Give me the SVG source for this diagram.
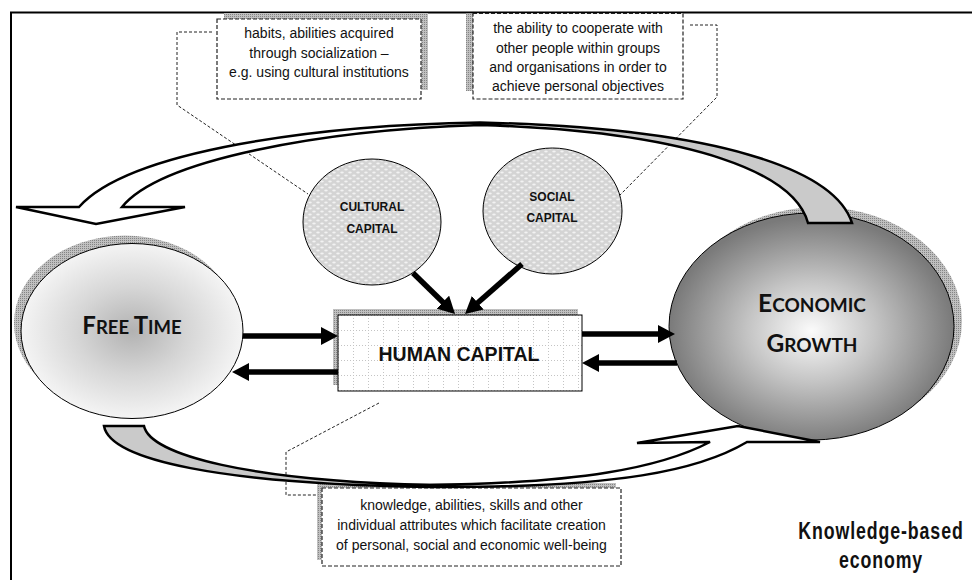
<svg xmlns="http://www.w3.org/2000/svg" width="972" height="580" viewBox="0 0 972 580">
<style>
.note{font-family:"Liberation Sans",Arial,sans-serif;font-size:14px;fill:#111;text-anchor:middle}
.cap{font-family:"Liberation Sans",Arial,sans-serif;font-size:12px;font-weight:bold;fill:#111;text-anchor:middle}
.sc{font-family:Lato,"Open Sans",sans-serif;font-weight:bold;fill:#111;text-anchor:middle}
.big{font-family:"Liberation Sans",Arial,sans-serif;font-weight:bold;fill:#111;text-anchor:middle}
.title{font-family:"Liberation Sans",Arial,sans-serif;font-weight:bold;font-size:24px;letter-spacing:1.2px;fill:#111;text-anchor:middle}
.dbox{fill:#fff;stroke:#222;stroke-width:1.2;stroke-dasharray:4 2}
.lead{fill:none;stroke:#222;stroke-width:1;stroke-dasharray:3 2}
.conn{fill:none;stroke:#000;stroke-width:5.5}
.band{stroke:#000;stroke-width:2.5;stroke-linejoin:miter}
</style>
<defs>
<pattern id="hatch" width="2" height="2" patternUnits="userSpaceOnUse"><rect width="2" height="2" fill="#c0c0c0"/><rect width="1" height="1" fill="#858585"/></pattern>
<pattern id="dots" width="8" height="6" patternUnits="userSpaceOnUse"><rect width="8" height="6" fill="#d4d4d4"/><ellipse cx="2" cy="1.5" rx="1.8" ry="0.9" fill="#f2f2f2"/><ellipse cx="6" cy="4.5" rx="1.8" ry="0.9" fill="#f2f2f2"/></pattern>
<pattern id="grid" x="338" y="315" width="15" height="15" patternUnits="userSpaceOnUse"><rect width="15" height="15" fill="#fff"/><path d="M0,0.5H15M0.5,0V15" stroke="#c4c4c4" stroke-width="1" stroke-dasharray="1 2"/></pattern>
<radialGradient id="ftGrad" cx="0.5" cy="0.5" r="0.5"><stop offset="0" stop-color="#b2b2b2"/><stop offset="0.5" stop-color="#d6d6d6"/><stop offset="1" stop-color="#f4f4f4"/></radialGradient>
<radialGradient id="egGrad" cx="0.5" cy="0.52" r="0.5"><stop offset="0" stop-color="#fbfbfb"/><stop offset="0.45" stop-color="#c4c4c4"/><stop offset="1" stop-color="#7a7a7a"/></radialGradient>
<linearGradient id="upFill" gradientUnits="userSpaceOnUse" x1="0" y1="0" x2="972" y2="0"><stop offset="0.576" stop-color="#fff"/><stop offset="0.576" stop-color="#cacaca"/></linearGradient>
<linearGradient id="lowFill" gradientUnits="userSpaceOnUse" x1="0" y1="0" x2="972" y2="0"><stop offset="0.442" stop-color="#cacaca"/><stop offset="0.442" stop-color="#fff"/></linearGradient>
<marker id="head" markerUnits="userSpaceOnUse" markerWidth="17" markerHeight="18" refX="3" refY="9" orient="auto"><path d="M0,0L17,9L0,18Z" fill="#000"/></marker>
</defs>
<rect width="972" height="580" fill="#fff"/>

<g id="frame"><path d="M11,580V12.5H972" fill="none" stroke="#000" stroke-width="2"/></g>

<g id="note-cultural">
<rect x="224" y="13" width="204" height="77" fill="url(#hatch)"/>
<rect class="dbox" x="217" y="19" width="204" height="80"/>
<text class="note" x="319" y="38" font-size="14.6">habits, abilities acquired</text>
<text class="note" x="319" y="57.5" font-size="14.6">through socialization –</text>
<text class="note" x="319" y="77" font-size="14.6">e.g. using cultural institutions</text>
</g>

<g id="note-social">
<rect x="466" y="13.5" width="210" height="77.5" fill="url(#hatch)"/>
<rect class="dbox" x="473" y="13.5" width="210" height="85.5"/>
<text class="note" x="578" y="33">the ability to cooperate with</text>
<text class="note" x="578" y="52.5">other people within groups</text>
<text class="note" x="578" y="72">and organisations in order to</text>
<text class="note" x="578" y="91">achieve personal objectives</text>
</g>

<g id="note-human">
<rect x="317" y="483" width="299" height="77" fill="url(#hatch)"/>
<rect class="dbox" x="322" y="488" width="299" height="78"/>
<text class="note" x="471.5" y="510" font-size="14.8">knowledge, abilities, skills and other</text>
<text class="note" x="471.5" y="530" font-size="14.8">individual attributes which facilitate creation</text>
<text class="note" x="471.5" y="550" font-size="14.8">of personal, social and economic well-being</text>
</g>

<g id="leaders">
<path class="lead" d="M212,32H177V105L308,194"/>
<path class="lead" d="M690,25H717V97L620,195"/>
<path class="lead" d="M379,403L286,452V495H318"/>
</g>

<g id="free-time">
<ellipse cx="125" cy="323" rx="111" ry="87.5" fill="url(#hatch)"/>
<ellipse cx="132" cy="331" rx="111" ry="87.5" fill="url(#ftGrad)" stroke="#000" stroke-width="1"/>
<text class="sc" x="132" y="334"><tspan font-size="24">F</tspan><tspan font-size="18.5">REE </tspan><tspan font-size="24">T</tspan><tspan font-size="18.5">IME</tspan></text>
</g>

<g id="economic-growth">
<ellipse cx="819.5" cy="320.5" rx="142.5" ry="113.5" fill="url(#hatch)"/>
<ellipse cx="811.5" cy="326.5" rx="142.5" ry="113.5" fill="url(#egGrad)" stroke="#000" stroke-width="1"/>
<text class="sc" x="812" y="312"><tspan font-size="24.5">E</tspan><tspan font-size="19">CONOMIC</tspan></text>
<text class="sc" x="812" y="352"><tspan font-size="24.5">G</tspan><tspan font-size="19">ROWTH</tspan></text>
</g>

<g id="cultural-capital">
<ellipse cx="372" cy="222" rx="69" ry="63" fill="url(#dots)" stroke="#000" stroke-width="1"/>
<text class="cap" x="372" y="211">CULTURAL</text>
<text class="cap" x="372" y="232.5">CAPITAL</text>
</g>

<g id="social-capital">
<ellipse cx="552.5" cy="211" rx="69.5" ry="63" fill="url(#dots)" stroke="#000" stroke-width="1"/>
<text class="cap" x="552" y="200.5">SOCIAL</text>
<text class="cap" x="552" y="221.5">CAPITAL</text>
</g>

<g id="human-capital">
<rect x="333" y="309" width="245" height="76" fill="url(#hatch)"/>
<rect x="338" y="315" width="244" height="76" fill="url(#grid)" stroke="#000" stroke-width="1"/>
<text class="big" x="459" y="361" font-size="19.5">HUMAN CAPITAL</text>
</g>

<g id="connectors">
<line class="conn" x1="243" y1="336" x2="324" y2="336" marker-end="url(#head)"/>
<line class="conn" x1="338" y1="372" x2="246" y2="372" marker-end="url(#head)"/>
<line class="conn" x1="582" y1="334" x2="661" y2="334" marker-end="url(#head)"/>
<line class="conn" x1="677" y1="363" x2="596" y2="363" marker-end="url(#head)"/>
<line class="conn" x1="413" y1="273" x2="445" y2="304.2" marker-end="url(#head)"/>
<line class="conn" x1="522" y1="264" x2="475.5" y2="304.8" marker-end="url(#head)"/>
<path class="band" fill="url(#upFill)" d="M852,223C835,170 720,128 480,122.5C320,125 130,150 79,207L16,207L96,224L185,207L122,207C160,160 320,130 480,125C700,132 795,175 808,223Z"/>
<path class="band" fill="url(#lowFill)" d="M104,426C110,460 220,484 430,487C620,488 700,470 747,442L820,442L738,426L637,443L710,442C660,468 580,483 430,485C250,481 150,455 144,426Z"/>
</g>

<g id="title">
<text class="title" transform="translate(881,539) scale(0.74,1)">Knowledge-based</text>
<text class="title" transform="translate(881,568) scale(0.74,1)">economy</text>
</g>
</svg>
